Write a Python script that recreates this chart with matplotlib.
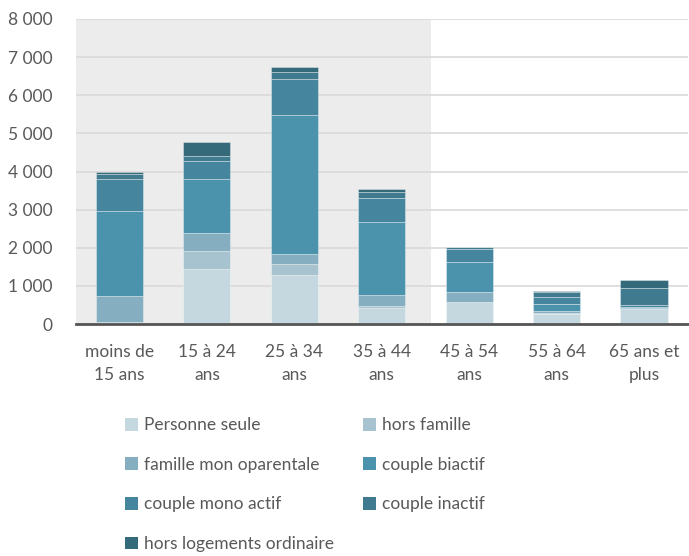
import numpy as np
import matplotlib
matplotlib.use('Agg')
import matplotlib.pyplot as plt
from matplotlib.patches import Patch

plt.rcParams['font.family'] = ['Lato', 'DejaVu Sans']

categories = ['moins de\n15 ans', '15 à 24\nans', '25 à 34\nans', '35 à 44\nans',
              '45 à 54\nans', '55 à 64\nans', '65 ans et\nplus']

series_names = ['Personne seule', 'hors famille', 'famille mon oparentale',
                'couple biactif', 'couple mono actif', 'couple inactif',
                'hors logements ordinaire']

personne_seule = [30, 1450, 1300, 430, 570, 270, 385]
hors_famille = [20, 470, 270, 40, 20, 20, 10]
famille_mono = [700, 470, 270, 290, 260, 50, 20]
couple_biactif = [2220, 1420, 3650, 1910, 780, 180, 25]
couple_monoactif = [840, 470, 930, 630, 350, 180, 60]
couple_inactif = [130, 130, 190, 160, 30, 150, 460]
hors_logements = [60, 360, 140, 80, 20, 20, 195]

series = [personne_seule, hors_famille, famille_mono, couple_biactif,
          couple_monoactif, couple_inactif, hors_logements]
colors = ['#c5d7df', '#a8c3d0', '#85aec0', '#4b93ad', '#45869e', '#3f7a8e', '#356a7b']

yticks = [0, 1000, 2000, 3000, 4000, 5000, 6000, 7000, 8000]
text_color = '#595959'

fig = plt.figure(figsize=(6.89, 5.56), dpi=100)
ax = fig.add_axes([0.110, 0.417, 0.888, 0.549])

x = np.arange(len(categories))
ax.axvspan(-0.5, 3.56, color='#ebeceb', zorder=0, lw=0)

bottom = np.zeros(len(categories))
for vals, col, name in zip(series, colors, series_names):
    ax.bar(x, vals, width=0.54, bottom=bottom, color=col, label=name,
           edgecolor=(1, 1, 1, 0.35), linewidth=0.7, zorder=3)
    bottom += np.array(vals)

ax.set_xlim(-0.5, 6.5)
ax.set_ylim(0, 8000)
ax.set_yticks(yticks)
ax.set_yticklabels([f'{v:,}'.replace(',', ' ') for v in yticks])
ax.set_xticks(x)
ax.set_xticklabels(categories, linespacing=1.55)
ax.yaxis.grid(True, color='#d9d9d9', linewidth=1.2, zorder=1)
ax.set_axisbelow(True)
for s in ['top', 'right', 'left']:
    ax.spines[s].set_visible(False)
ax.spines['bottom'].set_color('#555555')
ax.spines['bottom'].set_linewidth(2)
ax.spines['bottom'].set_zorder(4)
ax.tick_params(axis='both', length=0, colors=text_color, labelsize=12.5)
ax.tick_params(axis='y', pad=17)
ax.tick_params(axis='x', pad=14)

# legend filled row by row, two columns
order = [0, 2, 4, 6, 1, 3, 5]
handles = [Patch(facecolor=colors[i], edgecolor='none') for i in order]
labels = [series_names[i] for i in order]
fig.legend(handles, labels, loc='upper left', bbox_to_anchor=(0.171, 0.262),
           ncol=2, frameon=False, fontsize=12.5, labelcolor=text_color,
           handlelength=0.75, handleheight=0.75, handletextpad=0.35,
           columnspacing=1.68, labelspacing=1.36, borderaxespad=0)

fig.savefig('out.png', dpi=100)
